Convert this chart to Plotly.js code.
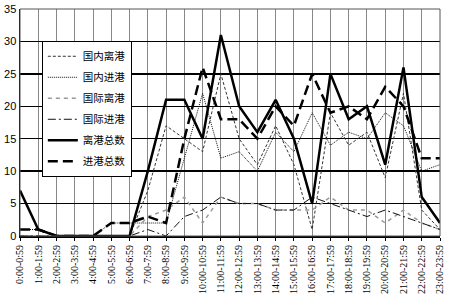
<!DOCTYPE html>
<html>
<head>
<meta charset="utf-8">
<script src="https://cdn.plot.ly/plotly-3.0.1.min.js"></script>
<style>html,body{margin:0;padding:0;background:#fff;}#chart{width:461px;height:307px;}</style>
</head>
<body>
<div id="chart"></div>
<script>
var hours = ["0:00-0:59","1:00-1:59","2:00-2:59","3:00-3:59","4:00-4:59","5:00-5:59","6:00-6:59","7:00-7:59","8:00-8:59","9:00-9:59","10:00-10:59","11:00-11:59","12:00-12:59","13:00-13:59","14:00-14:59","15:00-15:59","16:00-16:59","17:00-17:59","18:00-18:59","19:00-19:59","20:00-20:59","21:00-21:59","22:00-22:59","23:00-23:59"];
var domDep   = [7,1,0,0,0,0,0,7,17,15,13,25,15,11,17,11,1,19,14,16,9,22,4,1];
var domArr   = [1,1,0,0,0,2,2,2,2,12,22,12,13,10,16,13,19,14,16,15,19,17,10,11];
var intlDep  = [0,0,0,0,0,0,0,3,4,6,2,6,5,5,4,4,4,6,4,4,2,4,2,1];
var intlArr  = [0,0,0,0,0,0,0,1,0,3,4,6,5,5,4,4,6,5,4,3,4,3,2,1];
var totalDep = [7,1,0,0,0,0,0,10,21,21,15,31,20,16,21,15,5,25,18,20,11,26,6,2];
var totalArr = [1,1,0,0,0,2,2,3,2,15,26,18,18,15,20,17,25,19,20,18,23,20,12,12];
var names = ["国内离港","国内进港","国际离港","国际进港","离港总数","进港总数"];

var series = [domDep, domArr, intlDep, intlArr, totalDep, totalArr];
var styles = [
  {color:"#333", width:1, dash:"3px,2px"},
  {color:"#111", width:1, dash:"1px,1px"},
  {color:"#999", width:1.5, dash:"4px,4px"},
  {color:"#111", width:1, dash:"8px,3px,2px,3px"},
  {color:"#000", width:2.5, dash:"solid"},
  {color:"#000", width:2.5, dash:"10px,5px"}
];
var traces = series.map(function(s,i){
  return {x: hours, y: s, name: names[i], type:"scatter", mode:"lines",
          line: styles[i], legendgroup: "g"+i};
});
var layout = {
  width:461, height:307,
  margin:{l:20, r:21, t:9, b:71},
  paper_bgcolor:"#fff", plot_bgcolor:"#fff",
  font:{family:"Liberation Serif, Times New Roman, serif", size:10, color:"#000"},
  showlegend:true,
  legend:{x:0.052, y:0.86, xanchor:"left", yanchor:"top", bgcolor:"#fff",
          bordercolor:"#000", borderwidth:1, tracegroupgap:2, traceorder:"grouped",
          font:{family:"Noto Sans CJK SC, sans-serif", size:10.5, color:"#000"}, itemwidth:30},
  xaxis:{type:"category", range:[0,23], showgrid:true, gridcolor:"#888", gridwidth:1,
         tickangle:-90, ticks:"outside", ticklen:3, tickcolor:"#000",
         showline:true, linecolor:"#000", linewidth:2, mirror:false,
         tickfont:{family:"Liberation Serif, serif", size:10}, zeroline:false},
  yaxis:{range:[0,35], dtick:5, showgrid:true, gridcolor:"#000", gridwidth:1.5,
         showline:true, linecolor:"#000", linewidth:1.5, ticks:"",
         tickfont:{family:"Liberation Sans, Arial, sans-serif", size:11}, zeroline:false},
  shapes:[{type:"rect", xref:"paper", yref:"paper", x0:0, x1:1, y0:0, y1:1,
           line:{color:"#555", width:1}}]
};
Plotly.newPlot("chart", traces, layout, {displayModeBar:false, staticPlot:true});
</script>
</body>
</html>
